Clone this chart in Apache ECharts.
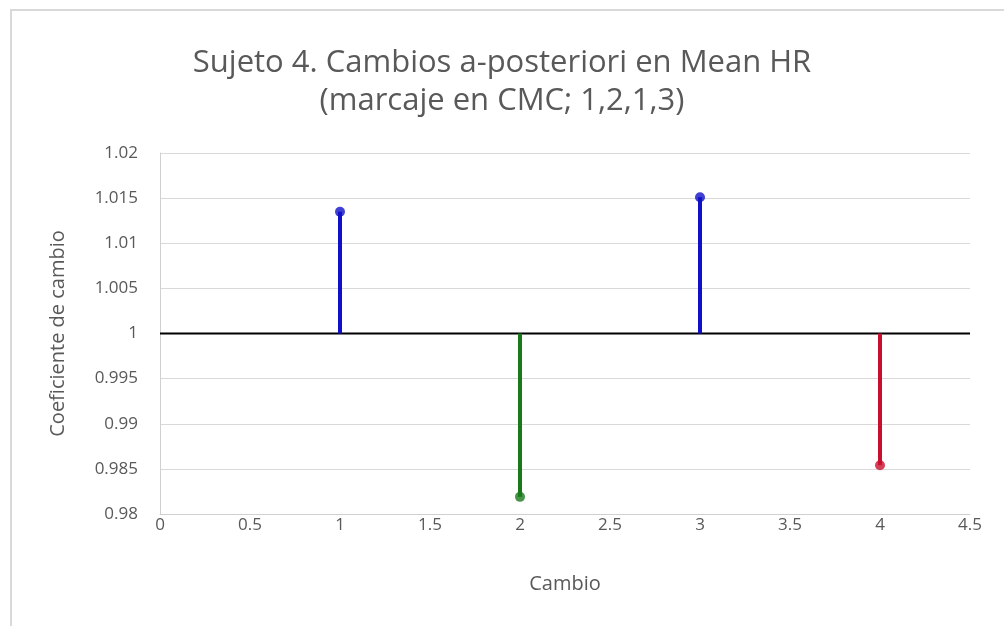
<!DOCTYPE html>
<html>
<head>
<meta charset="utf-8">
<script src="https://cdn.jsdelivr.net/npm/echarts@6/dist/echarts.min.js"></script>
<style>
  html, body { margin: 0; padding: 0; background: #ffffff; }
  #frame { position: absolute; left: 10px; top: 9px; width: 1000px; height: 630px; border: 2px solid #d9d9d9; box-sizing: border-box; }
  #chart { position: absolute; left: 0; top: 0; width: 1004px; height: 626px; }
</style>
</head>
<body>
<div id="frame"></div>
<div id="chart"></div>
<script>
// Change index (x) and change coefficient (y) for each step
const changes = [1, 2, 3, 4];
const coefficients = [1.0135, 0.9819, 1.0151, 0.9854];
const stemColors = ['#1010c8', '#1a7a1a', '#1010c8', '#c8102e'];
const baseline = 1;
const xTicks = [0, 0.5, 1, 1.5, 2, 2.5, 3, 3.5, 4, 4.5];
const yTicks = [0.98, 0.985, 0.99, 0.995, 1, 1.005, 1.01, 1.015, 1.02];

const font = 'Open Sans, Noto Sans, sans-serif';
const chart = echarts.init(document.getElementById('chart'));

const series = [];
// reference line at coefficient 1
series.push({
  type: 'line',
  data: [[xTicks[0], baseline], [xTicks[xTicks.length - 1], baseline]],
  symbol: 'none',
  lineStyle: { color: '#000000', width: 2 },
  silent: true,
  z: 3
});
// one stem per change, from the baseline to the coefficient
changes.forEach((c, i) => {
  series.push({
    type: 'line',
    data: [[c, baseline], [c, coefficients[i]]],
    symbol: 'none',
    lineStyle: { color: stemColors[i], width: 4 },
    z: 4
  });
});
// marker at the tip of each stem
series.push({
  type: 'scatter',
  data: changes.map((c, i) => ({ value: [c, coefficients[i]], itemStyle: { color: stemColors[i] } })),
  symbolSize: 10,
  z: 5
});

chart.setOption({
  animation: false,
  title: {
    text: 'Sujeto 4. Cambios a-posteriori en Mean HR\n(marcaje en CMC; 1,2,1,3)',
    left: 'center',
    top: 39,
    textStyle: { fontFamily: font, fontWeight: 'normal', fontSize: 31, color: '#595959', lineHeight: 38 }
  },
  grid: { left: 160, right: 34, top: 153, bottom: 112 },
  xAxis: {
    type: 'value',
    min: xTicks[0], max: xTicks[xTicks.length - 1], interval: 0.5,
    name: 'Cambio', nameLocation: 'middle', nameGap: 60,
    nameTextStyle: { fontFamily: font, fontSize: 20, color: '#595959' },
    axisLine: { show: true, lineStyle: { color: '#d0d0d0', width: 1 } },
    axisTick: { show: false },
    splitLine: { show: false },
    axisLabel: { fontFamily: font, fontSize: 17, color: '#595959', margin: 3, formatter: v => String(v) }
  },
  yAxis: {
    type: 'value',
    min: yTicks[0], max: yTicks[yTicks.length - 1], interval: 0.005,
    name: 'Coeficiente de cambio', nameLocation: 'middle', nameGap: 92,
    nameTextStyle: { fontFamily: font, fontSize: 20, color: '#595959' },
    axisLine: { show: true, lineStyle: { color: '#d0d0d0', width: 1 } },
    axisTick: { show: false },
    splitLine: { show: true, lineStyle: { color: '#d9d9d9', width: 1 } },
    axisLabel: { fontFamily: font, fontSize: 17, color: '#595959', margin: 22,
      formatter: v => String(parseFloat(v.toFixed(3))) }
  },
  series: series
});
</script>
</body>
</html>
